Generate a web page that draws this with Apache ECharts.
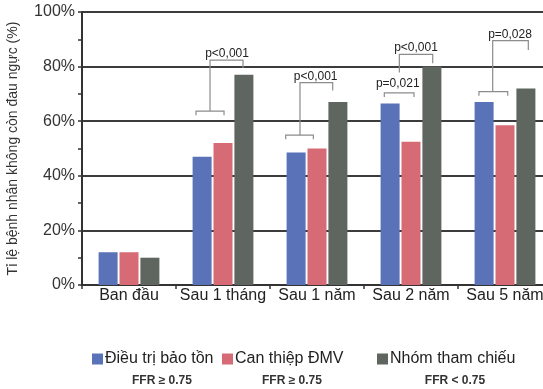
<!DOCTYPE html>
<html>
<head>
<meta charset="utf-8">
<script src="https://cdn.jsdelivr.net/npm/echarts@6/dist/echarts.min.js"></script>
<style>
  html, body { margin: 0; padding: 0; background: #fff; overflow: hidden; }
  #chart { width: 543px; height: 389px; }
</style>
</head>
<body>
<div id="chart"></div>
<script>
// Follow-up time points
const categories = ['Ban đầu', 'Sau 1 tháng', 'Sau 1 năm', 'Sau 2 năm', 'Sau 5 năm'];

// Share of patients free of chest pain (%)
const conservative = [12, 47, 48.5, 66.5, 67];   // Điều trị bảo tồn, FFR ≥ 0.75
const pci = [12, 52, 50, 52.5, 58.5];            // Can thiệp ĐMV, FFR ≥ 0.75
const reference = [10, 77, 67, 80, 72];          // Nhóm tham chiếu, FFR < 0.75

const seriesNames = ['Điều trị bảo tồn', 'Can thiệp ĐMV', 'Nhóm tham chiếu'];
const ffrLabels = ['FFR ≥ 0.75', 'FFR ≥ 0.75', 'FFR < 0.75'];
const yTicks = [0, 20, 40, 60, 80, 100];

// Significance brackets: [category, left offset, right offset (fraction of band),
//  bar-top value, left end value, right end value]
const brackets = [
  [1, -0.287, 0.011, 63.7, 62.2, 62.2],
  [1, -0.138, 0.213, 82.4, 63.7, 79.5],
  [2, -0.333, -0.039, 54.9, 53.4, 53.4],
  [2, -0.181, 0.167, 74.1, 54.9, 71.2],
  [3, -0.284, 0.032, 70.4, 68.9, 68.9],
  [3, -0.124, 0.231, 84.5, 77.8, 81.2],
  [4, -0.277, 0.029, 70.8, 69.3, 69.3],
  [4, -0.131, 0.248, 89.5, 70.8, 86.1]
];
// p-value labels: [category, offset, value]
const pPositions = [
  [1, 0.043, 84.9],
  [2, -0.014, 76.2],
  [3, -0.141, 73.6],
  [3, 0.053, 86.9],
  [4, 0.053, 91.6]
];
const pTexts = ['p<0,001', 'p<0,001', 'p=0,021', 'p<0,001', 'p=0,028'];

const colors = ['#5a72b8', '#d66b76', '#5f655f'];
const FONT = '"Liberation Sans", Arial, sans-serif';

const chart = echarts.init(document.getElementById('chart'), null, { renderer: 'canvas' });

function renderBracket(params, api) {
  const cat = api.value(0);
  const band = api.size([1, 0])[0];
  const cx = api.coord([cat, 0])[0];
  const xa = cx + api.value(1) * band;
  const xb = cx + api.value(2) * band;
  const y = api.coord([cat, api.value(3)])[1];
  const ya = api.coord([cat, api.value(4)])[1];
  const yb = api.coord([cat, api.value(5)])[1];
  return {
    type: 'polyline',
    shape: { points: [[xa, ya], [xa, y], [xb, y], [xb, yb]] },
    style: { stroke: '#8c8c8c', lineWidth: 1.2, fill: null }
  };
}

function renderPText(params, api) {
  const cat = api.value(0);
  const band = api.size([1, 0])[0];
  const p = api.coord([cat, api.value(2)]);
  return {
    type: 'text',
    x: p[0] + api.value(1) * band,
    y: p[1],
    style: {
      text: pTexts[params.dataIndex],
      fill: '#222',
      font: '12px ' + FONT,
      align: 'center',
      verticalAlign: 'middle'
    }
  };
}

function legendAt(name, left) {
  return {
    data: [name],
    left: left,
    top: 351,
    padding: 0,
    itemWidth: 11,
    itemHeight: 11,
    icon: 'rect',
    selectedMode: false,
    textStyle: { fontSize: 16, color: '#222', fontFamily: FONT, padding: [0, 0, 0, -3] }
  };
}

const option = {
  animation: false,
  backgroundColor: '#fff',
  // the plot runs past the right edge, so the last category is cut off
  grid: { left: 82, width: 470, top: 12, height: 273, outerBoundsMode: 'none', containLabel: false },
  legend: [
    legendAt(seriesNames[0], 92),
    legendAt(seriesNames[1], 222),
    legendAt(seriesNames[2], 377)
  ],
  xAxis: {
    type: 'category',
    data: categories,
    axisLine: { lineStyle: { color: '#333', width: 2 } },
    axisTick: { show: true, length: 4, lineStyle: { color: '#333', width: 1.5 } },
    axisLabel: { fontSize: 16, color: '#222', fontFamily: FONT, margin: 3, interval: 0 },
    splitLine: { show: false }
  },
  yAxis: {
    type: 'value',
    min: yTicks[0],
    max: yTicks[yTicks.length - 1],
    interval: 20,
    name: 'Tỉ lệ bệnh nhân không còn đau ngực (%)',
    nameLocation: 'middle',
    nameRotate: 90,
    nameGap: 62,
    nameTextStyle: { fontSize: 14, color: '#333', fontFamily: FONT },
    axisLine: { show: true, lineStyle: { color: '#333', width: 2 } },
    axisTick: { show: true, length: 4, lineStyle: { color: '#333', width: 1.5 } },
    minorTick: { show: true, splitNumber: 2, length: 4, lineStyle: { color: '#333', width: 1.5 } },
    axisLabel: { fontSize: 16, color: '#333', fontFamily: FONT, margin: 7, formatter: '{value}%' },
    splitLine: { show: true, lineStyle: { color: '#3c3c3c', width: 2 } }
  },
  series: [
    { name: seriesNames[0], type: 'bar', data: conservative, barWidth: 19, barGap: '10%', itemStyle: { color: colors[0] } },
    { name: seriesNames[1], type: 'bar', data: pci, barWidth: 19, barGap: '10%', itemStyle: { color: colors[1] } },
    { name: seriesNames[2], type: 'bar', data: reference, barWidth: 19, barGap: '10%', itemStyle: { color: colors[2] } },
    {
      type: 'custom', renderItem: renderBracket, data: brackets, z: 5, silent: true,
      encode: { x: 0, y: 3 }, clip: false
    },
    {
      type: 'custom', renderItem: renderPText, data: pPositions, z: 6, silent: true,
      encode: { x: 0, y: 2 }, clip: false
    }
  ],
  graphic: [
    { type: 'text', x: 162, y: 381, style: { text: ffrLabels[0], font: 'bold 12px ' + FONT, fill: '#333', align: 'center', verticalAlign: 'middle' } },
    { type: 'text', x: 292, y: 381, style: { text: ffrLabels[1], font: 'bold 12px ' + FONT, fill: '#333', align: 'center', verticalAlign: 'middle' } },
    { type: 'text', x: 455, y: 381, style: { text: ffrLabels[2], font: 'bold 12px ' + FONT, fill: '#333', align: 'center', verticalAlign: 'middle' } }
  ]
};

chart.setOption(option);
</script>
</body>
</html>
